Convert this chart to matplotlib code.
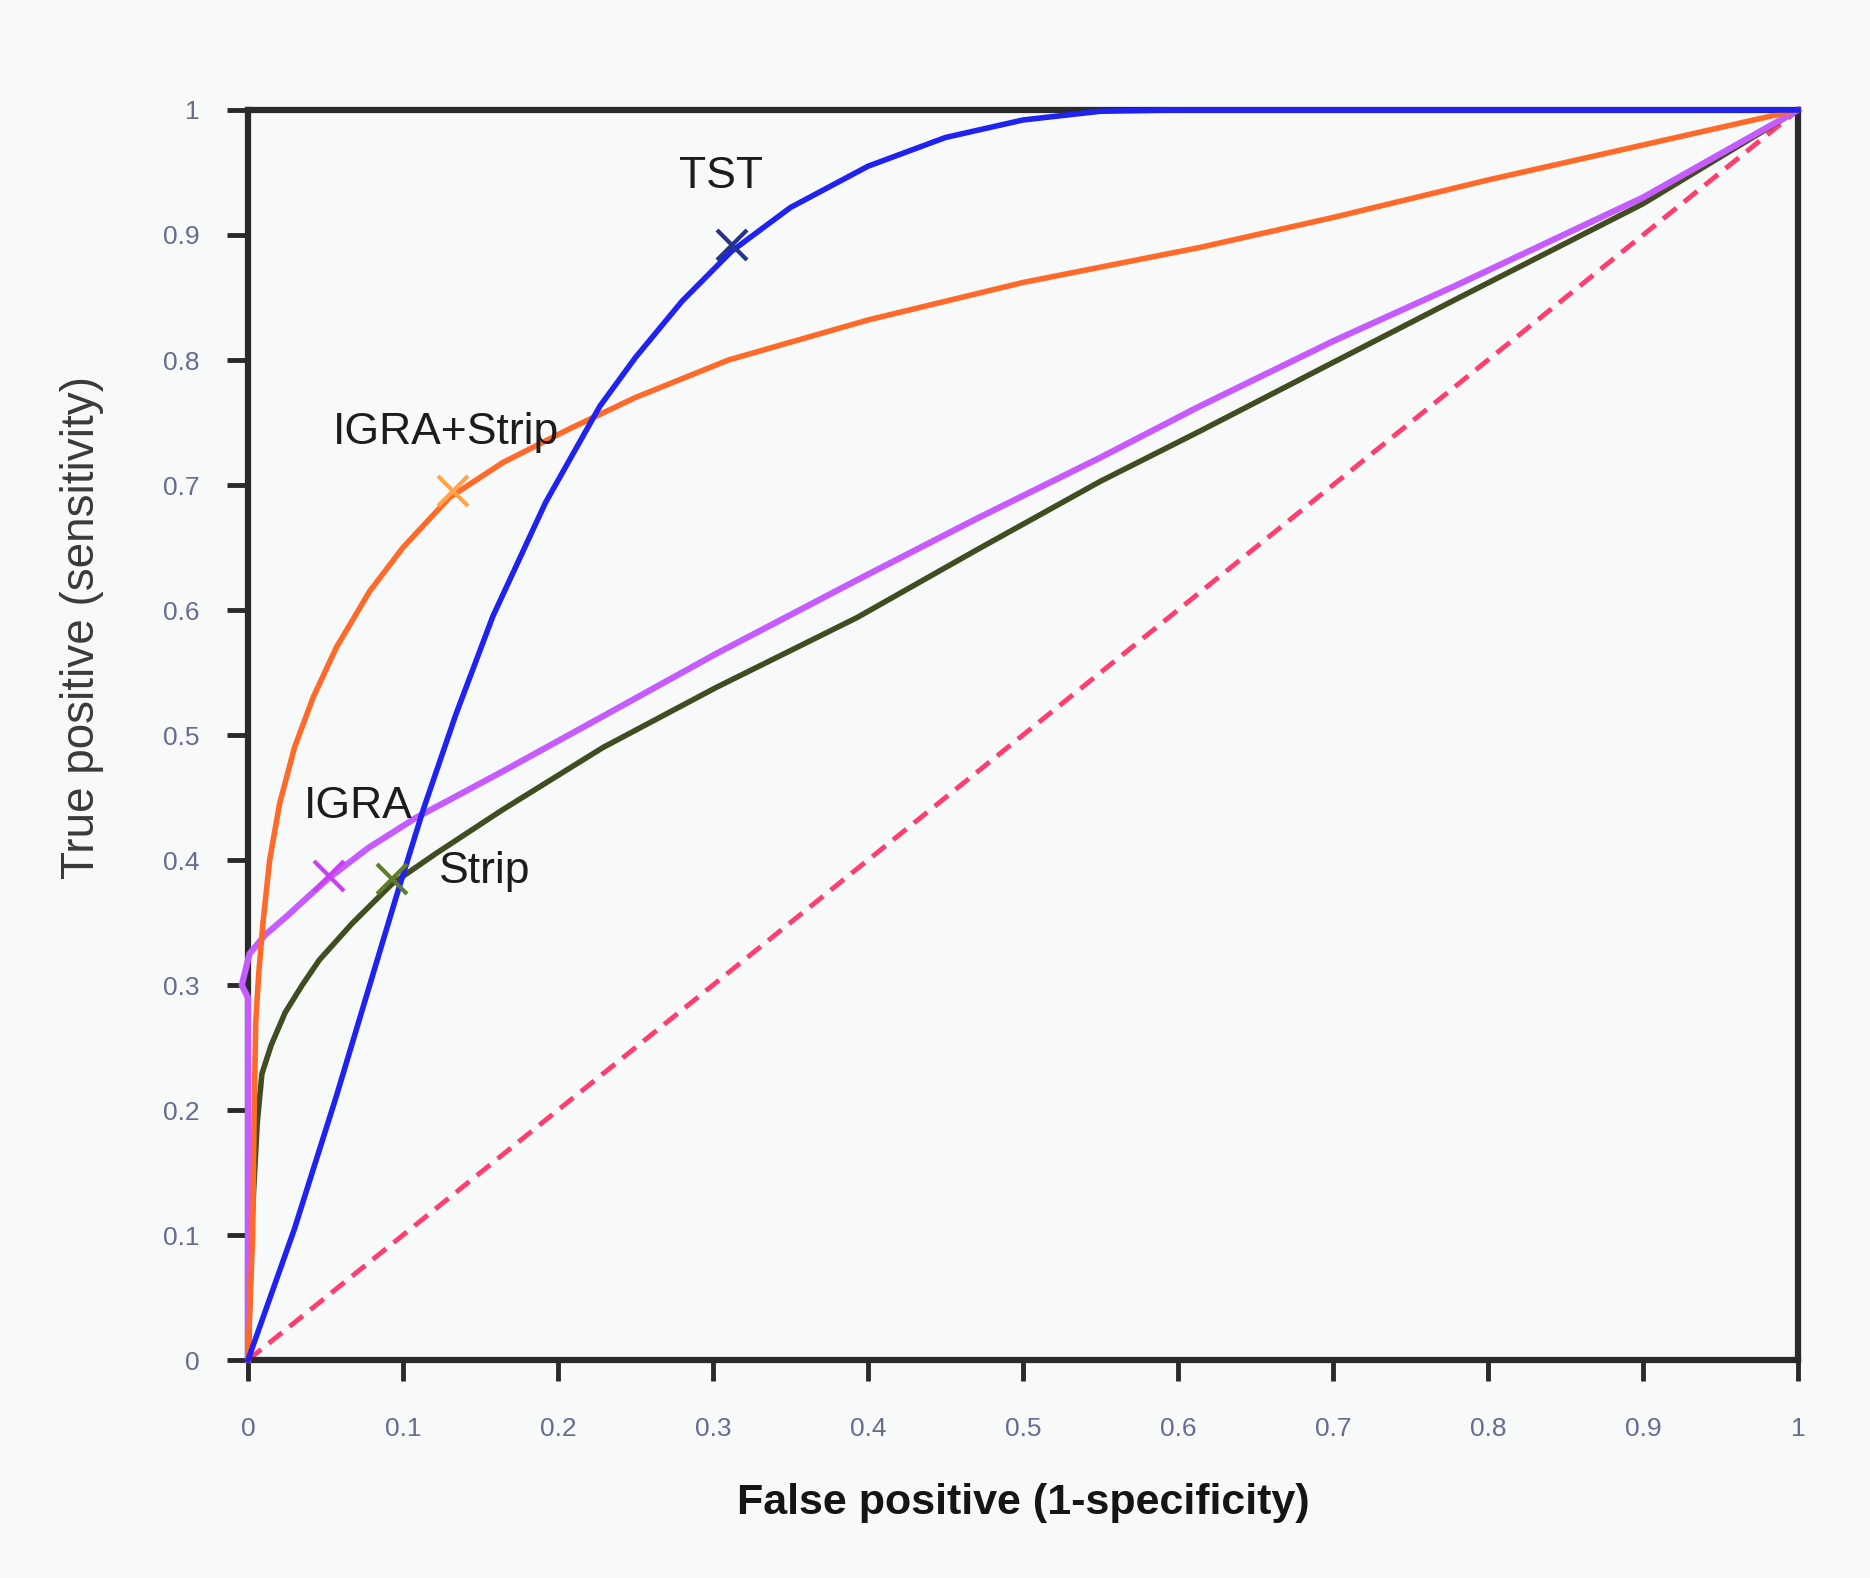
import matplotlib
matplotlib.use("Agg")
import matplotlib.pyplot as plt

# Datos (curvas ROC)
fp_tst = [0, 0.03, 0.057, 0.0955, 0.113, 0.134, 0.158, 0.192, 0.227, 0.25, 0.28, 0.312,
          0.35, 0.4, 0.45, 0.5, 0.55, 0.6, 1.0]
tp_tst = [0, 0.105, 0.211, 0.37, 0.44, 0.516, 0.595, 0.686, 0.763, 0.802, 0.847, 0.887,
          0.922, 0.955, 0.978, 0.992, 0.999, 1.0, 1.0]

fp_combo = [0, 0.003, 0.004, 0.005, 0.007, 0.0097, 0.014, 0.0204, 0.03, 0.042, 0.057, 0.0785,
            0.1, 0.13, 0.1645, 0.2075, 0.25, 0.31, 0.4, 0.5, 0.614, 0.7, 0.8, 0.9, 1.0]
tp_combo = [0, 0.10, 0.20, 0.27, 0.31, 0.35, 0.40, 0.445, 0.49, 0.53, 0.57, 0.615,
            0.65, 0.69, 0.718, 0.745, 0.77, 0.80, 0.832, 0.862, 0.89, 0.914, 0.944, 0.972, 1.0]

fp_igra = [0, 0, -0.004, 0.001, 0.011, 0.025, 0.04, 0.0526, 0.078, 0.1086, 0.1645, 0.229,
           0.302, 0.393, 0.47, 0.55, 0.614, 0.7, 0.78, 0.9, 1.0]
tp_igra = [0, 0.29, 0.30, 0.325, 0.34, 0.355, 0.372, 0.386, 0.41, 0.434, 0.471, 0.515,
           0.565, 0.624, 0.673, 0.722, 0.763, 0.815, 0.86, 0.93, 1.0]

fp_strip = [0, 0.003, 0.006, 0.009, 0.015, 0.024, 0.035, 0.046, 0.067, 0.093, 0.121, 0.164,
            0.229, 0.302, 0.393, 0.47, 0.55, 0.614, 0.7, 0.78, 0.9, 1.0]
tp_strip = [0, 0.12, 0.19, 0.229, 0.252, 0.278, 0.30, 0.32, 0.349, 0.381, 0.405, 0.44,
            0.49, 0.538, 0.594, 0.648, 0.703, 0.743, 0.798, 0.849, 0.925, 1.0]

# puntos de corte marcados con una x
nombres = ["TST", "IGRA+Strip", "IGRA", "Strip"]
corte_fp = [0.312, 0.132, 0.0526, 0.093]
corte_tp = [0.892, 0.695, 0.387, 0.385]
texto_x = [0.305, 0.128, 0.071, 0.153]
texto_y = [0.947, 0.742, 0.443, 0.391]

ticks = [0, 0.1, 0.2, 0.3, 0.4, 0.5, 0.6, 0.7, 0.8, 0.9, 1]
tick_labels = ["0", "0.1", "0.2", "0.3", "0.4", "0.5", "0.6", "0.7", "0.8", "0.9", "1"]

colores_linea = ["#1f22f0", "#ff6a2a", "#c65cff", "#424c22"]
colores_marca = ["#25358c", "#ffa448", "#cc3ff0", "#5f7d2c"]

plt.rcParams["font.family"] = ["Liberation Sans", "DejaVu Sans"]
fondo = "#f8f9f9"

fig = plt.figure(figsize=(18.7, 15.78), dpi=100, facecolor=fondo)
ax = fig.add_axes([0.1326, 0.1381, 0.8289, 0.7922], facecolor=fondo)

# diagonal de referencia
ax.plot([0, 1], [0, 1], color="#ff3d6e", lw=3.5, dashes=(3.5, 2), clip_on=False, zorder=2)
ax.plot(fp_strip, tp_strip, color=colores_linea[3], lw=4, clip_on=False, zorder=3,
        solid_joinstyle="round")
ax.plot(fp_igra, tp_igra, color=colores_linea[2], lw=4.5, clip_on=False, zorder=3,
        solid_joinstyle="round")
ax.plot(fp_combo, tp_combo, color=colores_linea[1], lw=4, clip_on=False, zorder=4,
        solid_joinstyle="round")
ax.plot(fp_tst, tp_tst, color=colores_linea[0], lw=4, clip_on=False, zorder=4,
        solid_joinstyle="round")

for i in range(len(nombres)):
    ax.plot(corte_fp[i], corte_tp[i], marker="x", ms=22, mew=3, color=colores_marca[i],
            clip_on=False, zorder=5)
    ax.text(texto_x[i], texto_y[i], nombres[i], fontsize=32, color="#1c1c1c",
            ha="center", va="center", zorder=6)

ax.set_xlim(0, 1)
ax.set_ylim(0, 1)
ax.set_xticks(ticks)
ax.set_xticklabels(tick_labels)
ax.set_yticks(ticks)
ax.set_yticklabels(tick_labels)

for lado in ax.spines.values():
    lado.set_linewidth(4.5)
    lado.set_color("#2a2a2a")

ax.tick_params(axis="both", direction="out", length=15, width=3.5, color="#2a2a2a",
               labelsize=19, labelcolor="#6a6a90")
ax.tick_params(axis="x", pad=26)
ax.tick_params(axis="y", pad=20)

ax.set_xlabel("False positive (1-specificity)", fontsize=31, fontweight="bold", color="#151515")
ax.xaxis.set_label_coords(0.5, -0.098)
ax.set_ylabel("True positive (sensitivity)", fontsize=33, color="#3a3a3a")
ax.yaxis.set_label_coords(-0.093, 0.586)

fig.savefig("out.png", dpi=100, facecolor=fondo)
